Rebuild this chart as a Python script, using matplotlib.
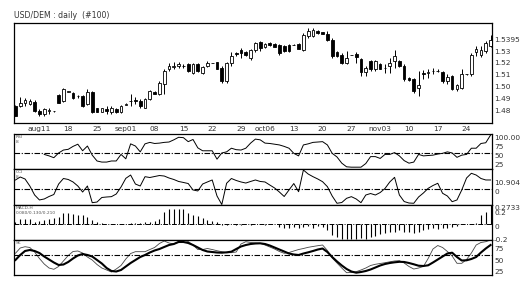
import numpy as np
import matplotlib
matplotlib.use("Agg")
import matplotlib.pyplot as plt

title = "USD/DEM : daily  (#100)"

# daily OHLC, 100 bars
opens = [1.4842, 1.4839, 1.4866, 1.4860, 1.4880, 1.4803, 1.4775, 1.4800, 1.4797, 1.4936,
         1.4886, 1.4964, 1.4955, 1.4928, 1.4928, 1.4858, 1.4964, 1.4822, 1.4794, 1.4817,
         1.4789, 1.4817, 1.4789, 1.4855, 1.4886, 1.4892, 1.4886, 1.4830, 1.4900, 1.4964,
         1.4942, 1.5025, 1.5150, 1.5170, 1.5183, 1.5180, 1.5192, 1.5122, 1.5192, 1.5122,
         1.5178, 1.5206, 1.5211, 1.5164, 1.5053, 1.5206, 1.5289, 1.5317, 1.5297, 1.5248,
         1.5311, 1.5378, 1.5339, 1.5372, 1.5367, 1.5358, 1.5350, 1.5358, 1.5358, 1.5367,
         1.5317, 1.5428, 1.5433, 1.5475, 1.5464, 1.5450, 1.5400, 1.5297, 1.5275, 1.5206,
         1.5270, 1.5280, 1.5239, 1.5128, 1.5220, 1.5150, 1.5192, 1.5164, 1.5178, 1.5220,
         1.5220, 1.5178, 1.5080, 1.5067, 1.4990, 1.5117, 1.5122, 1.5133, 1.5136, 1.5128,
         1.5053, 1.5094, 1.4989, 1.4997, 1.5108, 1.5108, 1.5300, 1.5275, 1.5303, 1.5350]
highs = [1.4850, 1.4920, 1.4912, 1.4900, 1.4890, 1.4816, 1.4830, 1.4822, 1.4800, 1.4947,
         1.4997, 1.4972, 1.4964, 1.4936, 1.4936, 1.4989, 1.4972, 1.4830, 1.4830, 1.4844,
         1.4839, 1.4830, 1.4855, 1.4866, 1.4942, 1.4920, 1.4900, 1.4910, 1.4975, 1.4970,
         1.5050, 1.5150, 1.5200, 1.5210, 1.5210, 1.5195, 1.5200, 1.5200, 1.5200, 1.5180,
         1.5220, 1.5208, 1.5215, 1.5178, 1.5210, 1.5294, 1.5300, 1.5331, 1.5305, 1.5322,
         1.5380, 1.5392, 1.5375, 1.5378, 1.5372, 1.5367, 1.5355, 1.5362, 1.5360, 1.5372,
         1.5456, 1.5497, 1.5500, 1.5480, 1.5468, 1.5470, 1.5410, 1.5305, 1.5290, 1.5303,
         1.5272, 1.5295, 1.5247, 1.5178, 1.5233, 1.5233, 1.5200, 1.5192, 1.5247, 1.5317,
         1.5233, 1.5192, 1.5090, 1.5075, 1.5136, 1.5144, 1.5150, 1.5164, 1.5150, 1.5136,
         1.5108, 1.5100, 1.5025, 1.5150, 1.5110, 1.5290, 1.5344, 1.5344, 1.5386, 1.5440]
lows = [1.4755, 1.4835, 1.4844, 1.4850, 1.4790, 1.4761, 1.4755, 1.4775, 1.4794, 1.4864,
        1.4878, 1.4958, 1.4905, 1.4914, 1.4836, 1.4850, 1.4780, 1.4789, 1.4789, 1.4775,
        1.4775, 1.4780, 1.4780, 1.4850, 1.4844, 1.4860, 1.4830, 1.4825, 1.4890, 1.4940,
        1.4936, 1.4942, 1.5140, 1.5150, 1.5160, 1.5165, 1.5130, 1.5115, 1.5130, 1.5115,
        1.5170, 1.5204, 1.5150, 1.5039, 1.5040, 1.5178, 1.5260, 1.5247, 1.5262, 1.5230,
        1.5300, 1.5303, 1.5330, 1.5350, 1.5335, 1.5275, 1.5300, 1.5300, 1.5356, 1.5318,
        1.5303, 1.5410, 1.5425, 1.5450, 1.5445, 1.5386, 1.5250, 1.5255, 1.5192, 1.5192,
        1.5268, 1.5200, 1.5094, 1.5094, 1.5136, 1.5136, 1.5150, 1.5117, 1.5122, 1.5164,
        1.5170, 1.5053, 1.5055, 1.4950, 1.4928, 1.5072, 1.5080, 1.5108, 1.5125, 1.5039,
        1.5025, 1.4975, 1.4969, 1.4989, 1.5106, 1.5094, 1.5261, 1.5255, 1.5290, 1.5340]
closes = [1.4760, 1.4872, 1.4894, 1.4886, 1.4797, 1.4775, 1.4816, 1.4806, 1.4797, 1.4872,
          1.4989, 1.4965, 1.4914, 1.4925, 1.4844, 1.4964, 1.4789, 1.4794, 1.4825, 1.4803,
          1.4830, 1.4794, 1.4844, 1.4858, 1.4887, 1.4883, 1.4839, 1.4900, 1.4969, 1.4947,
          1.5039, 1.5136, 1.5178, 1.5180, 1.5192, 1.5178, 1.5136, 1.5192, 1.5136, 1.5172,
          1.5206, 1.5206, 1.5156, 1.5053, 1.5206, 1.5261, 1.5278, 1.5289, 1.5270, 1.5311,
          1.5372, 1.5331, 1.5367, 1.5353, 1.5339, 1.5289, 1.5303, 1.5303, 1.5358, 1.5322,
          1.5442, 1.5469, 1.5483, 1.5456, 1.5450, 1.5400, 1.5261, 1.5261, 1.5206, 1.5247,
          1.5270, 1.5255, 1.5128, 1.5164, 1.5150, 1.5220, 1.5152, 1.5166, 1.5200, 1.5261,
          1.5178, 1.5067, 1.5061, 1.4969, 1.5020, 1.5114, 1.5125, 1.5140, 1.5136, 1.5053,
          1.5089, 1.4983, 1.5017, 1.5108, 1.5108, 1.5275, 1.5320, 1.5317, 1.5372, 1.5395]

date_pos = [5, 11, 17, 23, 29, 35, 41, 47, 52, 58, 64, 70, 76, 82, 88, 94]
date_labels = ["aug11", "18", "25", "sep01", "08", "15", "22", "29",
               "oct06", "13", "20", "27", "nov03", "10", "17", "24"]
price_ticks = [1.48, 1.49, 1.50, 1.51, 1.52, 1.53]

# RSI 8 (first bars have no value)
rsi = [np.nan] * 6 + [
    47, 43, 38, 51, 59, 61, 69, 75, 57, 70, 45, 29, 26, 26, 29, 29, 47, 35, 76, 70,
    54, 76, 80, 77, 78, 80, 81, 87, 94, 93, 82, 88, 65, 57, 57, 57, 34, 51, 54, 64,
    60, 59, 64, 78, 89, 87, 78, 77, 75, 73, 69, 64, 50, 43, 73, 76, 80, 81, 82, 73,
    50, 40, 23, 13, 12, 12, 12, 22, 41, 41, 36, 47, 47, 52, 43, 30, 23, 26, 47, 43,
    44, 45, 48, 50, 54, 51, 39, 45, 47, 64, 64, 77, 79, 100]

cci = [10.9, 14.5, 12.1, 3.6, -7.3, -13.3, -12.1, -9.1, -6.7, 6.0,
       12.7, 11.5, 8.5, 3.6, -3.7, 3.6, -16.6, -15.8, -10.3, -9.7,
       -9.3, -6.1, 2.4, 12.9, 16.9, 6.0, 3.6, 14.9, 13.9, 15.1,
       16.3, 15.7, 13.3, 11.5, 9.1, 7.9, 6.6, -1.2, -2.4, 6.0,
       8.5, 10.9, -8.5, -18.8, 6.9, 12.7, 10.3, 8.5, 7.2, 9.1,
       10.9, 9.1, 8.5, 4.8, 1.2, -3.7, -9.1, -1.2, 6.6, -3.3,
       23.0, 18.1, 14.9, 12.1, 8.8, 2.8, -8.5, -17.3, -16.4, -11.3,
       -9.3, -12.1, -16.6, -7.3, -5.5, -7.3, -4.3, 0.6, 8.5, 14.1,
       -7.3, -15.2, -17.0, -17.3, -9.7, -4.9, 0.8, 4.2, 6.9, -5.2,
       -8.5, -15.4, -13.3, -1.2, 13.3, 19.0, 16.9, 12.7, 10.9, 10.904]

macd_hist = [0.03, 0.07, 0.07, 0.07, 0.03, 0.04, 0.05, 0.07, 0.08, 0.10,
             0.15, 0.15, 0.14, 0.13, 0.12, 0.10, 0.06, 0.02, 0.01, 0.0,
             -0.01, -0.01, -0.01, 0.0, 0.01, 0.01, 0.01, 0.02, 0.02, 0.04,
             0.07, 0.17, 0.21, 0.22, 0.22, 0.21, 0.16, 0.13, 0.11, 0.08,
             0.06, 0.04, 0.02, -0.02, -0.02, -0.01, -0.02, -0.02, -0.01, -0.02,
             -0.01, -0.01, -0.02, -0.01, -0.01, -0.05, -0.06, -0.06, -0.05, -0.06,
             -0.05, -0.04, -0.06, -0.04, -0.05, -0.10, -0.17, -0.20, -0.22, -0.23,
             -0.22, -0.23, -0.21, -0.22, -0.19, -0.18, -0.16, -0.14, -0.12, -0.13,
             -0.10, -0.12, -0.13, -0.14, -0.12, -0.10, -0.08, -0.06, -0.08, -0.06,
             -0.07, -0.05, -0.03, -0.01, -0.01, 0.0, 0.01, 0.13, 0.17, 0.2733]

stoch_k = [60.2, 71.7, 74.5, 72.8, 63.0, 48.9, 36.9, 28.2, 25.4, 31.5,
           43.5, 55.4, 64.1, 65.2, 60.8, 52.1, 45.6, 35.8, 28.2, 23.9,
           19.5, 26.0, 33.7, 47.8, 59.7, 63.7, 63.7, 63.7, 68.4, 72.8,
           81.5, 86.9, 82.6, 80.4, 85.8, 88.7, 85.8, 78.2, 68.4, 68.4,
           70.6, 68.4, 65.8, 63.7, 61.5, 61.5, 63.0, 80.4, 85.4, 83.7,
           82.6, 81.9, 78.2, 73.9, 69.5, 64.1, 60.2, 61.9, 65.2, 68.4,
           70.6, 73.2, 75.0, 76.7, 78.2, 66.3, 50.0, 39.1, 28.2, 18.0,
           18.4, 20.2, 23.9, 28.2, 33.7, 36.3, 38.0, 39.7, 41.7, 43.5,
           44.1, 39.1, 31.5, 26.0, 28.2, 31.5, 48.9, 69.5, 77.1, 72.8,
           64.1, 54.3, 38.4, 38.4, 46.7, 60.8, 78.2, 83.7, 85.4, 89.1]
stoch_d = [45.6, 56.5, 65.2, 67.4, 65.2, 60.8, 53.2, 46.7, 40.2, 34.8,
           35.8, 41.3, 48.9, 55.4, 58.7, 56.5, 53.2, 45.6, 38.0, 28.2,
           21.7, 20.6, 23.9, 31.5, 39.1, 45.6, 52.1, 56.5, 61.9, 66.3,
           69.5, 73.9, 78.2, 80.4, 84.8, 84.8, 82.6, 78.2, 72.8, 67.4,
           64.1, 63.0, 61.9, 61.5, 62.3, 63.7, 69.5, 75.0, 78.2, 80.4,
           81.5, 81.9, 80.4, 77.1, 72.8, 68.4, 64.1, 59.7, 57.6, 56.5,
           59.7, 62.3, 65.2, 68.4, 70.6, 63.0, 52.1, 42.4, 33.7, 26.1,
           20.6, 18.0, 19.5, 21.7, 25.0, 29.3, 33.7, 36.9, 39.1, 40.6,
           41.7, 41.3, 39.1, 36.3, 33.2, 32.6, 34.1, 40.2, 46.7, 53.2,
           59.7, 61.5, 52.1, 44.5, 45.0, 47.8, 52.1, 61.9, 70.6, 78.2]

TXT = "#333333"
DASHDOT = (0, (5, 1.5, 1, 1.5))

o = np.array(opens); h = np.array(highs); l = np.array(lows); c = np.array(closes)
x = np.arange(len(c))

W, H = 531, 284
fig = plt.figure(figsize=(W / 100, H / 100), dpi=100)


def panel(top, bottom):
    ax = fig.add_axes([14 / W, 1 - bottom / H, 478 / W, (bottom - top) / H])
    ax.set_xlim(-0.3, 99.3)
    for s in ax.spines.values():
        s.set_linewidth(0.9)
        s.set_color("black")
    ax.yaxis.tick_right()
    ax.tick_params(axis="both", length=0, labelsize=5.3, labelcolor=TXT, pad=1.5)
    ax.set_xticks([])
    return ax


def right_labels(ax, vals, fmt, va="top"):
    ax.set_yticks(vals)
    ax.set_yticklabels([fmt(v) for v in vals])
    for lab in ax.get_yticklabels():
        lab.set_va(va)


# ---- price panel
ax = panel(23, 123)
up = c >= o
ax.vlines(x, l, h, color="black", lw=0.7, zorder=2)
ax.bar(x, np.maximum(np.abs(c - o), 0.00012), bottom=np.minimum(o, c), width=0.55,
       color=np.where(up, "white", "black"), edgecolor="black", lw=0.6, zorder=3)
ax.set_ylim(1.47, 1.554)
right_labels(ax, price_ticks + [c[-1]],
             lambda v: f"{v:.4f}" if v == c[-1] else f"{v:.2f}", va="center")
ax.set_xticks(date_pos)
ax.set_xticklabels(date_labels)
ax.tick_params(axis="x", pad=2.5)
fig.text(14 / W, 1 - 16 / H, title, fontsize=5.6, color=TXT, va="center", ha="left")

# ---- RSI
ax = panel(134, 169)
ax.plot(x, rsi, color="black", lw=0.7)
ax.axhline(50, color="black", lw=0.8, ls=DASHDOT)
ax.set_ylim(7, 103)
right_labels(ax, [100, 75, 50, 25], lambda v: "100.00" if v == 100 else f"{v:d}")
ax.text(0.004, 0.96, "RSI\n8", transform=ax.transAxes, fontsize=3.2, color="#555555",
        va="top", ha="left", linespacing=1.1)

# ---- CCI
ax = panel(169, 205)
ax.plot(x, cci, color="black", lw=0.7)
ax.axhline(0, color="black", lw=0.8, ls=DASHDOT)
ax.set_ylim(-19.4, 24.2)
right_labels(ax, [cci[-1], 0], lambda v: f"{v:.3f}" if v else "0")
ax.text(0.004, 0.96, "CCI\n8", transform=ax.transAxes, fontsize=3.2, color="#555555",
        va="top", ha="left", linespacing=1.1)

# ---- MACD histogram
ax = panel(205, 240)
ax.axhline(0, color="black", lw=0.7, ls=DASHDOT, zorder=1)
ax.vlines(x, 0, macd_hist, color="black", lw=0.8, zorder=2)
ax.set_ylim(-0.241, 0.241)
right_labels(ax, [macd_hist[-1], 0.2, 0, -0.2],
             lambda v: f"{v:.4f}" if v == macd_hist[-1] else (f"{v:g}"))
for lab in ax.get_yticklabels():
    lab.set_clip_on(False)
ax.text(0.004, 0.96, "MACD-H\n0.080/0.130/0.210", transform=ax.transAxes, fontsize=3.2,
        color="#555555", va="top", ha="left", linespacing=1.2)

# ---- Stochastic
ax = panel(240, 275)
ax.plot(x, stoch_k, color="#444444", lw=0.6)
ax.plot(x, stoch_d, color="black", lw=1.5)
ax.axhline(56.5, color="black", lw=0.8, ls=DASHDOT)
ax.set_ylim(13, 89.1)
right_labels(ax, [75, 50, 25], lambda v: f"{v:d}")
ax.text(0.004, 0.96, "SK", transform=ax.transAxes, fontsize=3.2, color="#555555",
        va="top", ha="left")

fig.savefig("out.png", dpi=100)
